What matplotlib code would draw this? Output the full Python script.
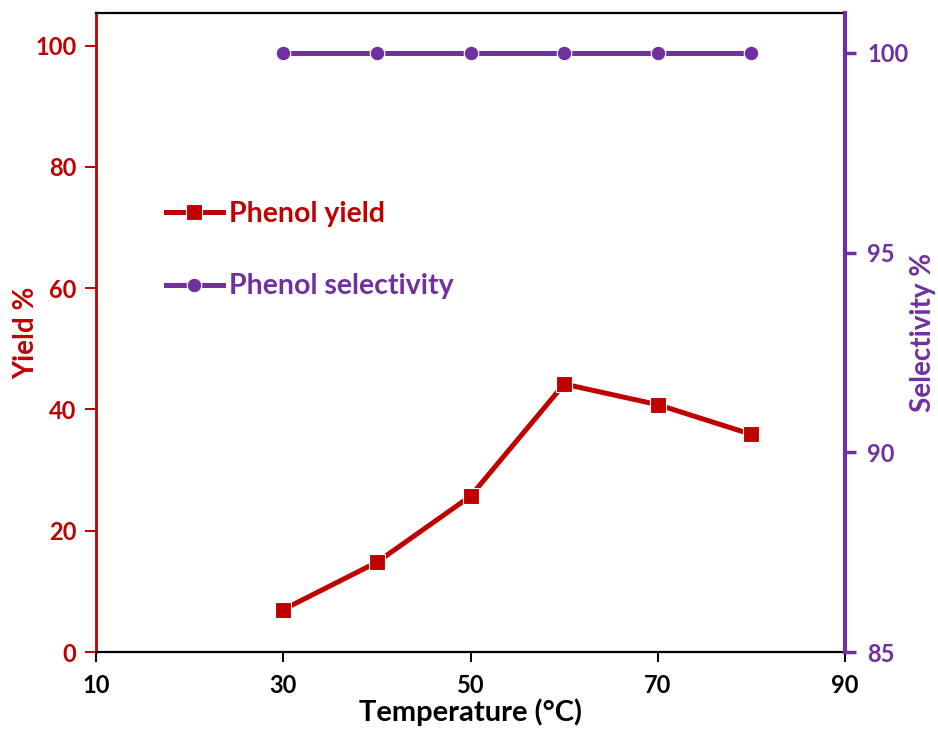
import matplotlib
matplotlib.use('Agg')
import matplotlib.pyplot as plt

# data
temperature = [30, 40, 50, 60, 70, 80]
phenol_yield = [7.0, 14.8, 25.7, 44.2, 40.8, 35.9]
phenol_selectivity = [100, 100, 100, 100, 100, 100]

x_ticks = [10, 30, 50, 70, 90]
yield_ticks = [0, 20, 40, 60, 80, 100]
sel_ticks = [85, 90, 95, 100]

RED = '#C00000'
PURPLE = '#7030A0'

plt.rcParams['font.family'] = ['Lato', 'DejaVu Sans']
plt.rcParams['font.weight'] = 'bold'

fig = plt.figure(figsize=(9.38, 7.31), dpi=100)
ax = fig.add_axes([96 / 938, 1 - 652 / 731, (845 - 96) / 938, (652 - 13) / 731])
ax2 = ax.twinx()

ln1, = ax.plot(temperature, phenol_yield, color=RED, lw=3.6, marker='s',
               markersize=11.5, markeredgecolor='white', markeredgewidth=0.8,
               label='Phenol yield', clip_on=False, zorder=3)
ln2, = ax2.plot(temperature, phenol_selectivity, color=PURPLE, lw=3.6, marker='o',
                markersize=10.5, markeredgecolor='white', markeredgewidth=0.8,
                label='Phenol selectivity', clip_on=False, zorder=3)

ax.set_xlim(10, 90)
ax.set_ylim(0, 105.4)
ax2.set_ylim(85, 101)
ax.set_xticks(x_ticks)
ax.set_yticks(yield_ticks)
ax2.set_yticks(sel_ticks)

# spines
for sp in ['top', 'bottom']:
    ax.spines[sp].set_color('black')
    ax.spines[sp].set_linewidth(1.6)
ax.spines['left'].set_color(RED)
ax.spines['left'].set_linewidth(2.0)
ax.spines['right'].set_visible(False)
for sp in ['left', 'top', 'bottom']:
    ax2.spines[sp].set_visible(False)
ax2.spines['right'].set_color(PURPLE)
ax2.spines['right'].set_linewidth(3.0)

ax.tick_params(axis='x', direction='out', length=7, width=1.4, colors='black',
               labelsize=17, pad=9)
ax.tick_params(axis='y', direction='out', length=8, width=1.4, colors=RED,
               labelsize=17, pad=6)
ax2.tick_params(axis='y', direction='out', length=8, width=2.5, colors=PURPLE,
                labelsize=17, pad=8)
for lab in ax.get_xticklabels() + ax.get_yticklabels() + ax2.get_yticklabels():
    lab.set_fontweight('bold')

ax.set_xlabel('Temperature (°C)', fontsize=21, fontweight='bold', labelpad=1)
ax.set_ylabel('Yield %', fontsize=20, fontweight='bold', color=RED, labelpad=-3)
ax2.set_ylabel('Selectivity %', fontsize=20, fontweight='bold', color=PURPLE, labelpad=1)

leg = ax2.legend(handles=[ln1, ln2], loc='center left',
                 bbox_to_anchor=(166 / 938, 1 - 250 / 731), bbox_transform=fig.transFigure,
                 frameon=False, fontsize=20.5, handlelength=2.0, handletextpad=0.2,
                 labelspacing=1.65, borderpad=0, borderaxespad=0)
for txt, c in zip(leg.get_texts(), [RED, PURPLE]):
    txt.set_color(c)
    txt.set_fontweight('bold')

fig.savefig('out.png', dpi=100)
